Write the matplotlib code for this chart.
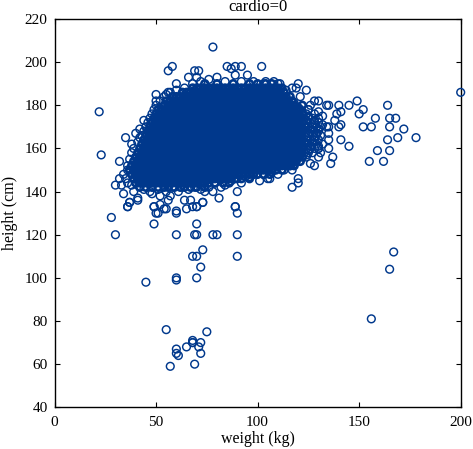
import matplotlib
matplotlib.use("Agg")
import matplotlib.pyplot as plt

plt.rcParams['font.family'] = ['Liberation Serif', 'DejaVu Serif']

# dense middle of the cloud, one list of weights per height
h_190 = [74, 80, 88, 96, 100, 104, 107]
h_188 = [68, 70, 72, 74, 76, 78, 80, 82, 84, 86, 88, 90, 92, 94, 96, 98, 100, 102, 104, 106, 108, 110, 112]
h_186 = [63, 65, 67, 69, 71, 73, 75, 77, 79, 81, 83, 85, 87, 89, 91, 93, 95, 97, 99, 101, 103, 105, 107, 109, 111, 113]
h_184 = [58, 60, 62, 64, 66, 68, 70, 72, 74, 76, 78, 80, 82, 84, 86, 88, 90, 92, 94, 96, 98, 100, 102, 104, 106, 108, 110, 112, 114, 116]
h_182 = [55, 57, 59, 61, 63, 65, 67, 69, 71, 73, 75, 77, 79, 81, 83, 85, 87, 89, 91, 93, 95, 97, 99, 101, 103, 105, 107, 109, 111, 113, 115, 117]
h_180 = [54, 56, 58, 60, 62, 64, 66, 68, 70, 72, 74, 76, 78, 80, 82, 84, 86, 88, 90, 92, 94, 96, 98, 100, 102, 104, 106, 108, 110, 112, 114, 116, 118, 122]
h_178 = [51, 53, 55, 57, 59, 61, 63, 65, 67, 69, 71, 73, 75, 77, 79, 81, 83, 85, 87, 89, 91, 93, 95, 97, 99, 101, 103, 105, 107, 109, 111, 113, 115, 117, 119, 121, 125]
h_176 = [50, 52, 54, 56, 58, 60, 62, 64, 66, 68, 70, 72, 74, 76, 78, 80, 82, 84, 86, 88, 90, 92, 94, 96, 98, 100, 102, 104, 106, 108, 110, 112, 114, 116, 118, 120, 122, 124, 128]
h_174 = [49, 51, 53, 55, 57, 59, 61, 63, 65, 67, 69, 71, 73, 75, 77, 79, 81, 83, 85, 87, 89, 91, 93, 95, 97, 99, 101, 103, 105, 107, 109, 111, 113, 115, 117, 119, 121, 123, 125, 127, 130]
h_172 = [48, 50, 52, 54, 56, 58, 60, 62, 64, 66, 68, 70, 72, 74, 76, 78, 80, 82, 84, 86, 88, 90, 92, 94, 96, 98, 100, 102, 104, 106, 108, 110, 112, 114, 116, 118, 120, 122, 124, 126, 128, 130]
h_170 = [47, 49, 51, 53, 55, 57, 59, 61, 63, 65, 67, 69, 71, 73, 75, 77, 79, 81, 83, 85, 87, 89, 91, 93, 95, 97, 99, 101, 103, 105, 107, 109, 111, 113, 115, 117, 119, 121, 123, 125, 127, 129, 131]
h_168 = [46, 48, 50, 52, 54, 56, 58, 60, 62, 64, 66, 68, 70, 72, 74, 76, 78, 80, 82, 84, 86, 88, 90, 92, 94, 96, 98, 100, 102, 104, 106, 108, 110, 112, 114, 116, 118, 120, 122, 124, 126, 128, 130]
h_166 = [45, 47, 49, 51, 53, 55, 57, 59, 61, 63, 65, 67, 69, 71, 73, 75, 77, 79, 81, 83, 85, 87, 89, 91, 93, 95, 97, 99, 101, 103, 105, 107, 109, 111, 113, 115, 117, 119, 121, 123, 125, 127, 129, 131]
h_164 = [44, 46, 48, 50, 52, 54, 56, 58, 60, 62, 64, 66, 68, 70, 72, 74, 76, 78, 80, 82, 84, 86, 88, 90, 92, 94, 96, 98, 100, 102, 104, 106, 108, 110, 112, 114, 116, 118, 120, 122, 124, 126, 128, 130]
h_162 = [43, 45, 47, 49, 51, 53, 55, 57, 59, 61, 63, 65, 67, 69, 71, 73, 75, 77, 79, 81, 83, 85, 87, 89, 91, 93, 95, 97, 99, 101, 103, 105, 107, 109, 111, 113, 115, 117, 119, 121, 123, 125, 127, 129]
h_160 = [42, 44, 46, 48, 50, 52, 54, 56, 58, 60, 62, 64, 66, 68, 70, 72, 74, 76, 78, 80, 82, 84, 86, 88, 90, 92, 94, 96, 98, 100, 102, 104, 106, 108, 110, 112, 114, 116, 118, 120, 122, 124, 126, 128, 130]
h_158 = [41, 43, 45, 47, 49, 51, 53, 55, 57, 59, 61, 63, 65, 67, 69, 71, 73, 75, 77, 79, 81, 83, 85, 87, 89, 91, 93, 95, 97, 99, 101, 103, 105, 107, 109, 111, 113, 115, 117, 119, 121, 123, 125, 127]
h_156 = [40, 42, 44, 46, 48, 50, 52, 54, 56, 58, 60, 62, 64, 66, 68, 70, 72, 74, 76, 78, 80, 82, 84, 86, 88, 90, 92, 94, 96, 98, 100, 102, 104, 106, 108, 110, 112, 114, 116, 118, 120, 122, 124]
h_154 = [39, 41, 43, 45, 47, 49, 51, 53, 55, 57, 59, 61, 63, 65, 67, 69, 71, 73, 75, 77, 79, 81, 83, 85, 87, 89, 91, 93, 95, 97, 99, 101, 103, 105, 107, 109, 111, 113, 115, 117, 119, 121]
h_152 = [38, 40, 42, 44, 46, 48, 50, 52, 54, 56, 58, 60, 62, 64, 66, 68, 70, 72, 74, 76, 78, 80, 82, 84, 86, 88, 90, 92, 94, 96, 98, 100, 102, 104, 106, 108, 110, 112, 114, 116, 118]
h_150 = [37, 39, 41, 43, 45, 47, 49, 51, 53, 55, 57, 59, 61, 63, 65, 67, 69, 71, 73, 75, 77, 79, 81, 83, 85, 87, 89, 91, 93, 95, 97, 99, 101, 103, 105, 107, 109, 112]
h_148 = [38, 40, 42, 44, 46, 48, 50, 52, 54, 56, 58, 60, 62, 64, 66, 68, 70, 72, 74, 76, 78, 80, 82, 84, 86, 88, 90, 92, 94, 96, 98, 100, 103, 106]
h_146 = [39, 41, 43, 45, 47, 49, 51, 53, 55, 57, 59, 61, 63, 65, 67, 69, 71, 73, 75, 77, 79, 81, 83, 85, 87, 89, 92, 96]
h_144 = [40, 42, 44, 46, 48, 50, 52, 54, 56, 58, 60, 62, 64, 66, 68, 70, 72, 74, 76, 79, 83, 86]
h_142 = [42, 45, 48, 51, 54, 56, 59, 62, 64, 67, 70, 74]

dense_heights = [190, 188, 186, 184, 182, 180, 178, 176, 174, 172, 170, 168, 166,
                 164, 162, 160, 158, 156, 154, 152, 150, 148, 146, 144, 142]
dense_weights = [h_190, h_188, h_186, h_184, h_182, h_180, h_178, h_176, h_174, h_172, h_170, h_168, h_166,
                 h_164, h_162, h_160, h_158, h_156, h_154, h_152, h_150, h_148, h_146, h_144, h_142]

# loose rings along the right hand side of the cloud
right_weight = [118, 122, 116, 120, 118, 117, 121, 125, 116, 120, 124, 128, 119, 123, 127, 118, 122, 126, 130,
                117, 121, 125, 129, 116, 120, 124, 128, 119, 123, 127, 118, 122, 126, 130, 117, 121, 125,
                116, 120, 124, 115, 119, 114, 118]
right_height = [177, 177, 179, 179, 181, 175, 175, 175, 173, 173, 173, 173, 171, 171, 171, 169, 169, 169, 169,
                167, 167, 167, 167, 165, 165, 165, 165, 163, 163, 163, 161, 161, 161, 161, 159, 159, 159,
                157, 157, 157, 155, 155, 153, 153]

# loose rings round the rest of the edge
edge_weight = [44, 47, 51, 55, 58, 61, 66, 69, 72, 76, 79, 82, 87, 90, 94, 98, 103, 107, 110, 113, 116,
               36, 36, 37, 38, 39, 41, 42, 43, 44, 45, 46, 47, 48, 49, 50, 52, 54, 57, 60, 64, 68, 72, 84, 92, 98, 104, 110,
               34, 35, 36, 38]
edge_height = [141, 140, 141, 140, 142, 140, 141, 142, 141, 142, 144, 142, 145, 146, 147, 148, 148, 149, 148, 150, 152,
               150, 152, 155, 158, 160, 163, 165, 166, 168, 170, 172, 174, 176, 178, 180, 182, 184, 186, 187, 188, 190, 191, 191, 191, 191, 191, 190,
               148, 146, 144, 143]

# points that stand clear of the cloud
outlier_weight = [22, 23, 32, 35, 38, 78, 56, 58, 69, 71, 85, 89, 92, 87, 102, 95, 89, 60, 50, 50, 56, 55, 66, 70, 76, 80,
                  44, 42, 40, 30, 32, 34, 37, 36, 41, 39, 33, 48, 49, 52, 54, 56, 60, 64, 70, 73, 78, 81, 89, 90, 84, 92, 96, 101, 105, 67, 68, 74, 52, 57,
                  200, 178, 172, 169, 168, 165, 164, 165, 164, 165, 159, 162, 155, 158, 152, 150, 149, 145, 140, 141, 139, 138, 141, 140, 152, 156, 141, 145,
                  135, 137, 136, 135, 134, 130, 128, 126, 135, 134, 135, 135, 131, 130, 128, 126, 117, 120, 120, 117, 106, 124, 121, 120, 117, 108, 103, 111, 114, 119, 125, 130, 132, 132, 132, 130,
                  28, 30, 36, 37, 41, 49, 50, 51, 55, 60, 65, 70, 73, 89, 90, 49, 70, 60, 69, 70, 78, 80, 90, 73, 68, 70, 90, 72, 60, 60, 70, 45,
                  55, 75, 68, 68, 68, 72, 71, 65, 60, 60, 61, 72, 69, 57, 167, 165, 156]
outlier_height = [177, 157, 154, 165, 162, 207, 196, 198, 196, 196, 198, 198, 198, 197, 198, 194, 194, 190, 185, 182, 186, 185, 193, 193, 192, 193,
                  173, 169, 167, 143, 146, 139, 135, 133, 137, 140, 143, 139, 133, 134, 132, 136, 131, 136, 133, 135, 140, 137, 133, 140, 143, 144, 147, 145, 146, 136, 133, 140, 138, 138,
                  186, 165, 169, 165, 174, 174, 180, 170, 164, 159, 159, 154, 154, 174, 178, 176, 182, 180, 180, 177, 176, 173, 171, 170, 170, 170, 164, 161,
                  160, 156, 153, 180, 180, 182, 182, 180, 170, 170, 167, 164, 158, 156, 152, 153, 150, 146, 144, 142, 146, 187, 184, 190, 188, 191, 190, 190, 187, 188, 178, 177, 175, 171, 162, 160,
                  128, 120, 133, 135, 136, 133, 130, 130, 132, 130, 132, 133, 135, 133, 130, 125, 125, 120, 120, 120, 120, 120, 120, 113, 110, 110, 110, 105, 100, 99, 100, 98,
                  76, 75, 71, 70, 70, 70, 68, 68, 67, 65, 64, 65, 60, 59, 112, 104, 81]

x_ticks = [0, 50, 100, 150, 200]
y_ticks = [40, 60, 80, 100, 120, 140, 160, 180, 200, 220]

# the solid part is drawn with a heavier ring so it closes up like the original
solid_w, solid_h, loose_w, loose_h = [], [], [], []
for h, row in zip(dense_heights, dense_weights):
    for w in row:
        if w <= 122:
            solid_w.append(w)
            solid_h.append(h)
        else:
            loose_w.append(w)
            loose_h.append(h)
loose_w += right_weight + edge_weight + outlier_weight
loose_h += right_height + edge_height + outlier_height

fig = plt.figure(figsize=(4.73, 4.49), dpi=100)
ax = fig.add_axes([54.5 / 473, 1 - 407.3 / 449, 406.2 / 473, 388.3 / 449])

ax.scatter(solid_w, solid_h, s=24, facecolors='none', edgecolors='#00388c', linewidths=1.9, zorder=3)
ax.scatter(loose_w, loose_h, s=31, facecolors='none', edgecolors='#00388c', linewidths=1.05, clip_on=False, zorder=3)

ax.set_xlim(0, 200)
ax.set_ylim(40, 220)
ax.set_xticks(x_ticks)
ax.set_yticks(y_ticks)
ax.tick_params(direction='in', top=True, right=True, length=3.5, width=0.8, labelsize=11, pad=5)
ax.tick_params(axis='x', pad=6.5)
for side in ax.spines.values():
    side.set_linewidth(1.0)
ax.set_xlabel('weight (kg)', fontsize=11.5, labelpad=1.5)
ax.set_ylabel('height (cm)', fontsize=11.5, labelpad=5)
ax.set_title('cardio=0', fontsize=12, pad=5.5)

fig.savefig('out.png', dpi=100)
